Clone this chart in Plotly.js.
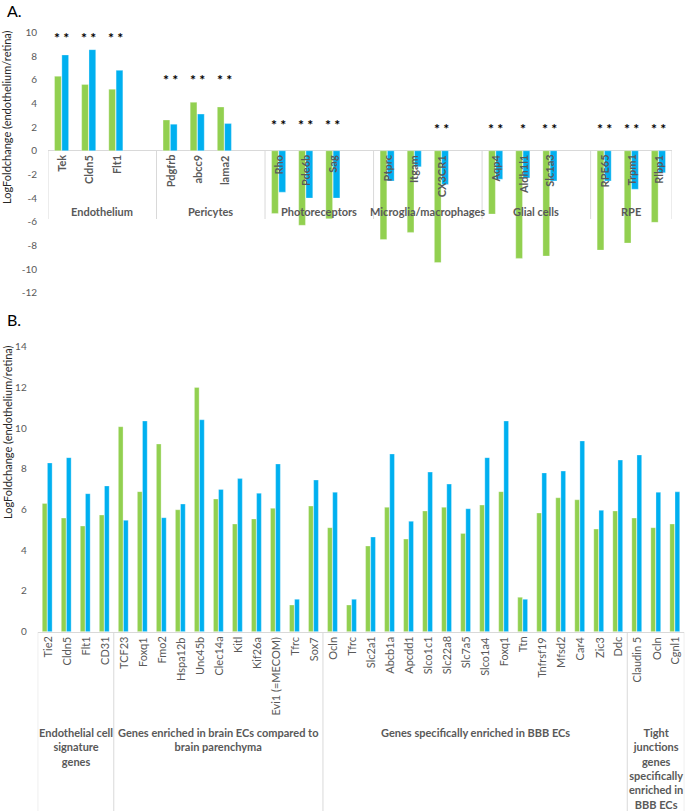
<!DOCTYPE html>
<html>
<head>
<meta charset="utf-8">
<script src="https://cdn.plot.ly/plotly-3.0.1.min.js"></script>
<style>
html,body{margin:0;padding:0;background:#fff;}
#chart{width:685px;height:811px;}
</style>
</head>
<body>
<div id="chart"></div>
<script>
// ---------- Panel A data ----------
const aGroupNames = ["Endothelium","Pericytes","Photoreceptors","Microglia/macrophages","Glial cells","RPE"];
const aGroupSizes = [3,3,3,3,3,3];
const aGenes = ["Tek","Cldn5","Flt1","Pdgfrb","abcc9","lama2","Rho","Pde6b","Sag","Ptprc","Itgam","CX3CR1","Aqp4","Aldh1l1","Slc1a3","RPE65","Trpm1","Rlbp1"];
const aGreen = [6.3,5.6,5.2,2.6,4.1,3.7,-5.3,-6.3,-5.75,-7.5,-6.9,-9.45,-5.35,-9.1,-8.9,-8.4,-7.8,-6.05];
const aBlue  = [8.1,8.55,6.8,2.25,3.1,2.3,-3.5,-4.0,-4.0,-2.55,-1.35,-2.85,-2.4,-2.3,-2.55,-2.55,-3.25,-1.85];
const aSig   = ["* *","* *","* *","* *","* *","* *","* *","* *","* *","","","* *","* *","*","* *","* *","* *","* *"];
const aSigLevel = [9.6,9.6,9.6,6.0,6.0,6.0,2.25,2.25,2.25,1.85,1.85,1.85,1.85,1.85,1.85,1.85,1.85,1.85];
const aTicks = [10,8,6,4,2,0,-2,-4,-6,-8,-10,-12];

// ---------- Panel B data ----------
const bGroupNames = ["Endothelial cell<br>signature<br>genes","Genes enriched in brain ECs compared to<br>brain parenchyma","Genes specifically enriched in BBB ECs","Tight<br>junctions<br>genes<br>specifically<br>enriched in<br>BBB ECs"];
const bGroupSizes = [4,11,16,3];
const bGenes = ["Tie2","Cldn5","Flt1","CD31",
  "TCF23","Foxq1","Fmo2","Hspa12b","Unc45b","Clec14a","Kitl","Kif26a","Evi1 (=MECOM)","Tfrc","Sox7",
  "Ocln","Tfrc","Slc2a1","Abcb1a","Apcdd1","Slco1c1","Slc22a8","Slc7a5","Slco1a4","Foxq1","Ttn","Tnfrsf19","Mfsd2","Car4","Zic3","Ddc",
  "Claudin 5","Ocln","Cgnl1"];
const bGreen = [6.3,5.58,5.19,5.73,
  10.07,6.88,9.22,5.99,12.0,6.52,5.29,5.54,6.06,1.31,6.17,
  5.11,1.31,4.21,6.11,4.55,5.93,6.11,4.83,6.22,6.88,1.69,5.83,6.58,6.48,5.04,5.93,
  5.58,5.11,5.29];
const bBlue = [8.29,8.55,6.78,7.16,
  5.47,10.35,5.6,6.27,10.41,6.99,7.52,6.8,8.24,1.59,7.45,
  6.85,1.59,4.65,8.73,5.42,7.84,7.25,6.04,8.55,10.35,1.59,7.8,7.89,9.37,5.96,8.43,
  8.68,6.85,6.87];
const bTicks = [0,2,4,6,8,10,12,14];

const GREEN = "#92D050", BLUE = "#00B0F0";
const GRID = "#d9d9d9", TXT = "#595959";
const FONT = "Lato, 'Open Sans', sans-serif";
const W = 685, H = 811;
const py = p => 1 - p / H;
const pxX = p => p / W;

// positions for panel A: each group followed by one blank slot (except the last)
const aX = [], aSpans = [];
let cur = 0;
aGroupSizes.forEach((n, g) => {
  const start = cur - 0.5;
  for (let i = 0; i < n; i++) aX.push(cur + i);
  cur += n + (g < aGroupSizes.length - 1 ? 1 : 0);
  aSpans.push([start, cur - 0.5]);
});
const aMax = cur - 0.5;

const bX = bGenes.map((_, i) => i), bSpans = [];
cur = 0;
bGroupSizes.forEach(n => { bSpans.push([cur - 0.5, cur + n - 0.5]); cur += n; });
const bMax = cur - 0.5;

const barLine = {color: "rgba(255,255,255,0.6)", width: 0.5};
const data = [
  {type:"bar", x:aX, y:aGreen, name:"Series 1", marker:{color:GREEN, line:barLine}, xaxis:"x", yaxis:"y", hoverinfo:"skip"},
  {type:"bar", x:aX, y:aBlue, name:"Series 2", marker:{color:BLUE, line:barLine}, xaxis:"x", yaxis:"y", hoverinfo:"skip"},
  {type:"bar", x:bX, y:bGreen, name:"Series 1", marker:{color:GREEN, line:barLine}, xaxis:"x2", yaxis:"y2", hoverinfo:"skip"},
  {type:"bar", x:bX, y:bBlue, name:"Series 2", marker:{color:BLUE, line:barLine}, xaxis:"x2", yaxis:"y2", hoverinfo:"skip"}
];

const annotations = [];
const shapes = [];

// panel letters and axis titles
annotations.push({xref:"paper", yref:"paper", x:pxX(5), y:py(10), text:"A.", showarrow:false, xanchor:"left", yanchor:"middle", font:{family:FONT, size:16, color:"#000"}});
annotations.push({xref:"paper", yref:"paper", x:pxX(5), y:py(319), text:"B.", showarrow:false, xanchor:"left", yanchor:"middle", font:{family:FONT, size:16, color:"#000"}});
const yTitle = "LogFoldchange (endothelium/retina)";
annotations.push({xref:"paper", yref:"paper", x:pxX(7), y:py(117), text:yTitle, textangle:-90, showarrow:false, xanchor:"center", yanchor:"middle", font:{family:FONT, size:11, color:"#262626"}});
annotations.push({xref:"paper", yref:"paper", x:pxX(7), y:py(432), text:yTitle, textangle:-90, showarrow:false, xanchor:"center", yanchor:"middle", font:{family:FONT, size:11, color:"#262626"}});

// panel A gene labels, significance stars, group labels, separators
aGenes.forEach((g, i) => {
  annotations.push({xref:"x", yref:"y", x:aX[i], y:0, yshift:-2, text:g, textangle:-90, showarrow:false, xanchor:"center", yanchor:"top", font:{family:FONT, size:11, color:TXT, weight:"bold"}});
  if (aSig[i]) annotations.push({xref:"x", yref:"y", x:aX[i], y:aSigLevel[i], text:aSig[i], showarrow:false, xanchor:"center", yanchor:"middle", font:{family:FONT, size:14, color:"#000", weight:"bold"}});
});
aGroupNames.forEach((name, g) => {
  const [s, e] = aSpans[g];
  annotations.push({xref:"x", yref:"y", x:(s + e) / 2, y:0, yshift:-61, text:name, showarrow:false, xanchor:"center", yanchor:"middle", font:{family:FONT, size:11, color:TXT, weight:"bold"}});
  shapes.push({type:"line", xref:"x", yref:"paper", x0:s, x1:s, y0:py(151), y1:py(219), line:{color:GRID, width:1}});
});
shapes.push({type:"line", xref:"x", yref:"paper", x0:aMax, x1:aMax, y0:py(151), y1:py(219), line:{color:GRID, width:1}});

// panel B gene labels, group labels, separators
bGenes.forEach((g, i) => {
  annotations.push({xref:"x2", yref:"y2", x:bX[i], y:0, yshift:-3, text:g, textangle:-90, showarrow:false, xanchor:"center", yanchor:"top", font:{family:FONT, size:11, color:TXT}});
});
bGroupNames.forEach((name, g) => {
  const [s, e] = bSpans[g];
  annotations.push({xref:"x2", yref:"y2", x:(s + e) / 2, y:0, yshift:-92, text:name, showarrow:false, xanchor:"center", yanchor:"top", align:"center", font:{family:FONT, size:11, color:TXT, weight:"bold"}});
  shapes.push({type:"line", xref:"x2", yref:"paper", x0:s, x1:s, y0:py(632), y1:0, line:{color:GRID, width:1}});
});
shapes.push({type:"line", xref:"x2", yref:"paper", x0:bMax, x1:bMax, y0:py(632), y1:0, line:{color:GRID, width:1}});

const tickFont = {family:FONT, size:10, color:TXT};
const layout = {
  width:W, height:H,
  margin:{l:0, r:0, t:0, b:0},
  paper_bgcolor:"#fff", plot_bgcolor:"rgba(0,0,0,0)",
  showlegend:false,
  barmode:"group", bargap:0.46, bargroupgap:0.08,
  xaxis:{domain:[pxX(48), pxX(672)], range:[-0.5, aMax], anchor:"y", showticklabels:false, showgrid:false, zeroline:false, showline:false, ticks:"", fixedrange:true},
  yaxis:{domain:[py(292.7), py(32.5)], range:[-12, 10], anchor:"x", tickvals:aTicks, ticktext:aTicks.map(String), tickfont:tickFont, showgrid:false, zeroline:true, zerolinecolor:GRID, zerolinewidth:1, showline:false, ticks:"outside", ticklen:8, tickcolor:"rgba(0,0,0,0)", fixedrange:true},
  xaxis2:{domain:[pxX(37.7), pxX(684.3)], range:[-0.5, bMax], anchor:"y2", showticklabels:false, showgrid:false, zeroline:false, showline:true, linecolor:GRID, linewidth:1, ticks:"", fixedrange:true},
  yaxis2:{domain:[py(631.7), py(346.7)], range:[0, 14], anchor:"x2", tickvals:bTicks, ticktext:bTicks.map(String), tickfont:tickFont, showgrid:false, zeroline:false, showline:false, ticks:"outside", ticklen:8, tickcolor:"rgba(0,0,0,0)", fixedrange:true},
  annotations:annotations,
  shapes:shapes,
  font:{family:FONT}
};

Plotly.newPlot("chart", data, layout, {displayModeBar:false, staticPlot:true});
</script>
</body>
</html>
